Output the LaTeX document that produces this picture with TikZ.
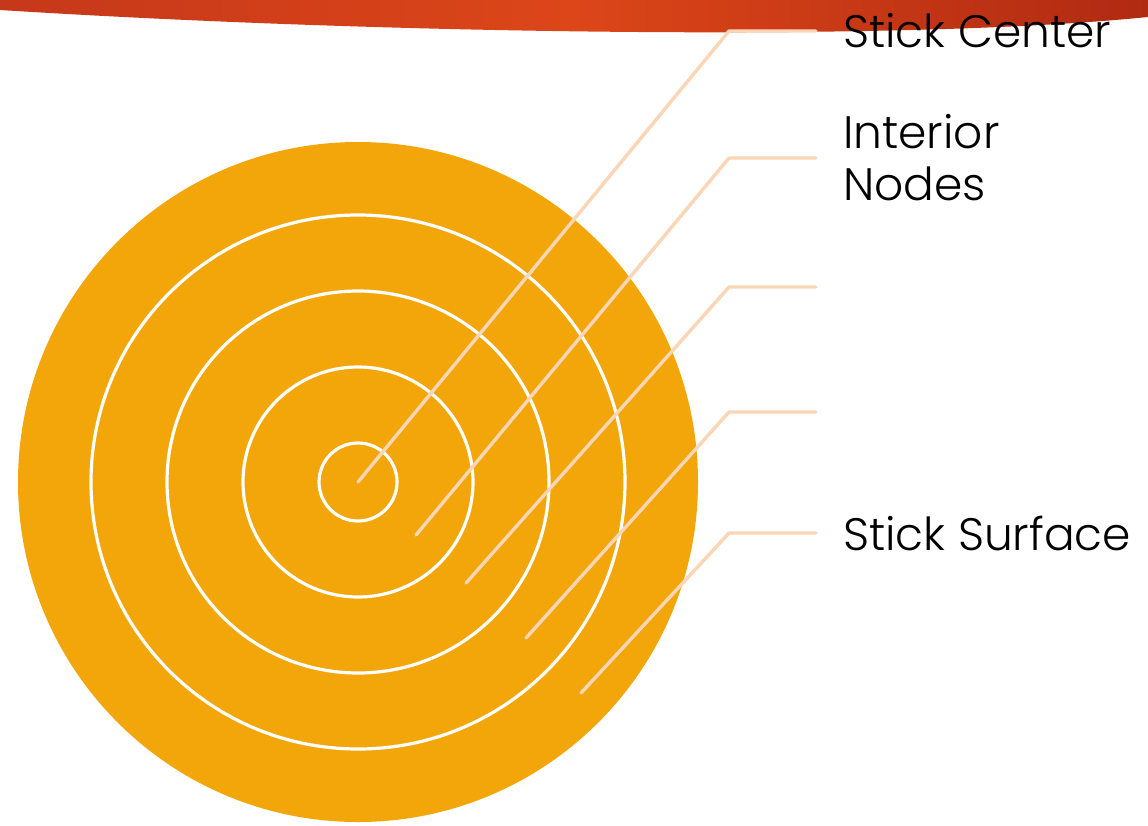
\documentclass[tikz,border=0pt]{standalone}
\usepackage{fontspec}
\setmainfont{Poppins Light}
\usepackage{xcolor}
\usepackage{tikz}
\usetikzlibrary{positioning}
\definecolor{StickOrange}{RGB}{243,166,10}
\definecolor{BandLeft}{RGB}{198,56,26}
\definecolor{BandMid}{RGB}{220,70,25}
\definecolor{BandRight}{RGB}{176,42,18}
\definecolor{Peach}{RGB}{250,214,182}
\tikzset{
	leader/.style={Peach, line width=3.4pt, line cap=round, line join=round},
	ring/.style={white, line width=3.2pt},
	lbl/.style={anchor=west, align=left, inner sep=0pt, font=\fontsize{45.5}{52}\selectfont}
}

\begin{document}
\begin{tikzpicture}[x=1pt, y=-1pt]
	\useasboundingbox (0,0) rectangle (1148,825);
	\fill[white] (0,0) rectangle (1148,825);
	\shade[left color=BandLeft, right color=BandRight, middle color=BandMid]
		(0,0) -- (1148,0) -- (1148,17) .. controls (900,42) and (380,34) .. (0,10) -- cycle;
	\coordinate (C) at (358,482);
	\fill[StickOrange] (C) circle[radius=340];
	\foreach \r in {39,115,191,267}
		\draw[ring] (C) circle[radius=\r];
	\coordinate (s1) at (358,482);
	\coordinate (s2) at (416,535);
	\coordinate (s3) at (466,583);
	\coordinate (s4) at (526,638);
	\coordinate (s5) at (581,693);
	\coordinate (k1) at (729,31);
	\coordinate (k2) at (729,158);
	\coordinate (k3) at (729,287);
	\coordinate (k4) at (729,412);
	\coordinate (k5) at (729,533);
	\coordinate (e1) at (816,31);
	\coordinate (e2) at (816,158);
	\coordinate (e3) at (816,287);
	\coordinate (e4) at (816,412);
	\coordinate (e5) at (816,533);
	\foreach \i in {1,...,5}
		\draw[leader] (s\i) -- (k\i) -- (e\i);
	\node[lbl] (center) at (843,31) {Stick Center};
	\node[lbl] (interior) at (843,158) {Interior\\Nodes};
	\node[lbl] (surface) at (843,533) {Stick Surface};
\end{tikzpicture}
\end{document}
